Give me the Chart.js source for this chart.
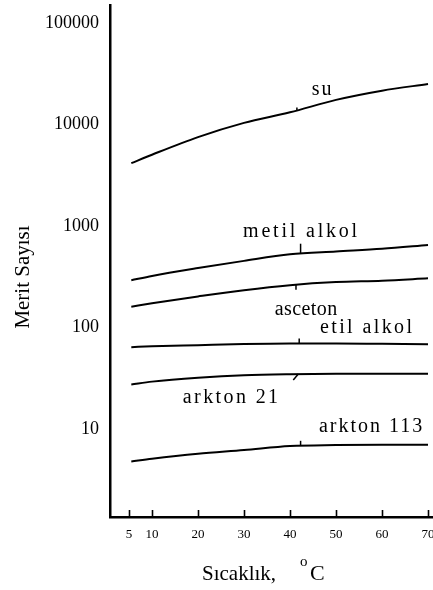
<!DOCTYPE html>
<html>
<head>
<meta charset="utf-8">
<script src="https://cdn.jsdelivr.net/npm/chart.js@4/dist/chart.umd.min.js"></script>
<style>
  html, body { margin: 0; padding: 0; background: #fff; overflow: hidden; }
  #wrap { position: relative; width: 450px; height: 590px; }
</style>
</head>
<body>
<div id="wrap"><canvas id="c" width="450" height="590"></canvas></div>
<script>
// Temperature (°C) and merit number of each working fluid
const temps      = [5.5, 10, 20, 30, 40, 50, 60, 70];
const su         = [4150, 5030, 7500, 10350, 13150, 17450, 21500, 25000];
const metilAlkol = [292, 322, 385, 453, 525, 560, 595, 650];
const asceton    = [160, 173, 202, 233, 261, 280, 289, 305];
const etilAlkol  = [64, 65.3, 67, 68.7, 69.5, 69.5, 69, 68.5];
const arkton21   = [27.5, 29.3, 32, 33.9, 34.7, 35, 35, 35];
const arkton113  = [4.8, 5.1, 5.7, 6.2, 6.8, 6.95, 7.0, 7.0];

const seriesNames = ['su', 'metil alkol', 'asceton', 'etil alkol', 'arkton 21', 'arkton 113'];
const seriesValues = [su, metilAlkol, asceton, etilAlkol, arkton21, arkton113];

const xTicks = [5, 10, 20, 30, 40, 50, 60, 70];
const yTicks = [10, 100, 1000, 10000, 100000];

const SERIF = "'Liberation Serif', 'Times New Roman', serif";

// Curve names written beside the lines (anchor in data units, left/baseline)
const curveLabels = [
  { s: 0, x: 44.7, y: 19540, size: 20, ls: 2.0 },
  { s: 1, x: 29.8, y: 779,   size: 20, ls: 2.8 },
  { s: 2, x: 36.7, y: 132.8, size: 20, ls: 0.4 },
  { s: 3, x: 46.5, y: 88.3,  size: 20, ls: 2.4 },
  { s: 4, x: 16.7, y: 18.0,  size: 20, ls: 2.4 },
  { s: 5, x: 46.3, y: 9.33,  size: 20, ls: 2.0 }
];
// Short leader strokes from each curve towards its name (pixel offsets)
const leaders = [
  { s: 0, x: 41.5, dx: 0,  dy: -3 },
  { s: 1, x: 42.3, dx: 0,  dy: -10 },
  { s: 2, x: 41.3, dx: 0,  dy: 5 },
  { s: 3, x: 42.0, dx: 0,  dy: -5 },
  { s: 4, x: 41.8, dx: -5, dy: 6 },
  { s: 5, x: 42.3, dx: 0,  dy: -5 }
];

function curvePixelY(chart, s, xv) {
  const pts = chart.getDatasetMeta(s).data;
  const px = chart.scales.x.getPixelForValue(xv);
  for (let i = 0; i < pts.length - 1; i++) {
    if (px >= pts[i].x && px <= pts[i + 1].x) {
      const t = (px - pts[i].x) / (pts[i + 1].x - pts[i].x);
      return { x: px, y: pts[i].y * (1 - t) + pts[i + 1].y * t };
    }
  }
  return { x: px, y: pts[pts.length - 1].y };
}

const decorations = {
  id: 'decorations',
  afterDatasetsDraw(chart) {
    const ctx = chart.ctx;
    const xs = chart.scales.x, ys = chart.scales.y;
    const area = chart.chartArea;
    ctx.save();
    ctx.fillStyle = '#000';
    ctx.strokeStyle = '#000';

    // inward tick marks on the temperature axis
    ctx.lineWidth = 1.6;
    xTicks.forEach(v => {
      const px = Math.round(xs.getPixelForValue(v)) + 0.5;
      ctx.beginPath();
      ctx.moveTo(px, area.bottom);
      ctx.lineTo(px, area.bottom - 7);
      ctx.stroke();
    });

    // leaders
    ctx.lineWidth = 1.5;
    leaders.forEach(l => {
      const p = curvePixelY(chart, l.s, l.x);
      ctx.beginPath();
      ctx.moveTo(p.x, p.y);
      ctx.lineTo(p.x + l.dx, p.y + l.dy);
      ctx.stroke();
    });

    // curve names
    ctx.textAlign = 'left';
    ctx.textBaseline = 'alphabetic';
    curveLabels.forEach(l => {
      ctx.font = `${l.size}px ${SERIF}`;
      ctx.letterSpacing = `${l.ls}px`;
      ctx.fillText(seriesNames[l.s], xs.getPixelForValue(l.x), ys.getPixelForValue(l.y));
    });
    ctx.letterSpacing = '0px';

    // axis titles
    ctx.font = `21px ${SERIF}`;
    ctx.save();
    ctx.translate(29, 277);
    ctx.rotate(-Math.PI / 2);
    ctx.textAlign = 'center';
    ctx.fillText('Merit Sayısı', 0, 0);
    ctx.restore();

    ctx.textAlign = 'left';
    ctx.fillText('Sıcaklık,', 202, 580);
    ctx.font = `15px ${SERIF}`;
    ctx.fillText('o', 300, 566);
    ctx.font = `22px ${SERIF}`;
    ctx.fillText('C', 310, 580);
    ctx.restore();
  }
};

const datasets = seriesNames.map((name, i) => ({
  label: name,
  data: temps.map((t, k) => ({ x: t, y: seriesValues[i][k] })),
  borderColor: '#000',
  borderWidth: 2,
  pointRadius: 0,
  fill: false,
  tension: 0.4,
  cubicInterpolationMode: 'monotone'
}));

new Chart(document.getElementById('c'), {
  type: 'line',
  data: { datasets },
  plugins: [decorations],
  options: {
    responsive: false,
    devicePixelRatio: 1,
    animation: false,
    events: [],
    layout: { padding: { top: 5, right: 0, bottom: 0, left: 0 } },
    plugins: { legend: { display: false }, tooltip: { enabled: false } },
    scales: {
      x: {
        type: 'linear',
        min: 0.87,
        max: 74.78,
        grid: { display: false, drawTicks: false },
        border: { display: true, color: '#000', width: 2.5 },
        ticks: {
          color: '#000',
          font: { family: SERIF, size: 13 },
          padding: 10,
          autoSkip: false,
          maxRotation: 0,
          callback: v => String(v)
        },
        afterBuildTicks: s => { s.ticks = xTicks.map(v => ({ value: v })); },
        afterFit: s => { s.height = 73; s.paddingLeft = 0; s.paddingRight = 0; }
      },
      y: {
        type: 'logarithmic',
        min: 1.36,
        max: 150000,
        grid: { display: false, drawTicks: false },
        border: { display: true, color: '#000', width: 2.5 },
        ticks: {
          color: '#000',
          font: { family: SERIF, size: 18 },
          padding: 11,
          autoSkip: false,
          callback: v => String(v)
        },
        afterBuildTicks: s => { s.ticks = yTicks.map(v => ({ value: v })); },
        afterFit: s => { s.width = 110; s.paddingTop = 0; s.paddingBottom = 0; }
      }
    }
  }
});
</script>
</body>
</html>
